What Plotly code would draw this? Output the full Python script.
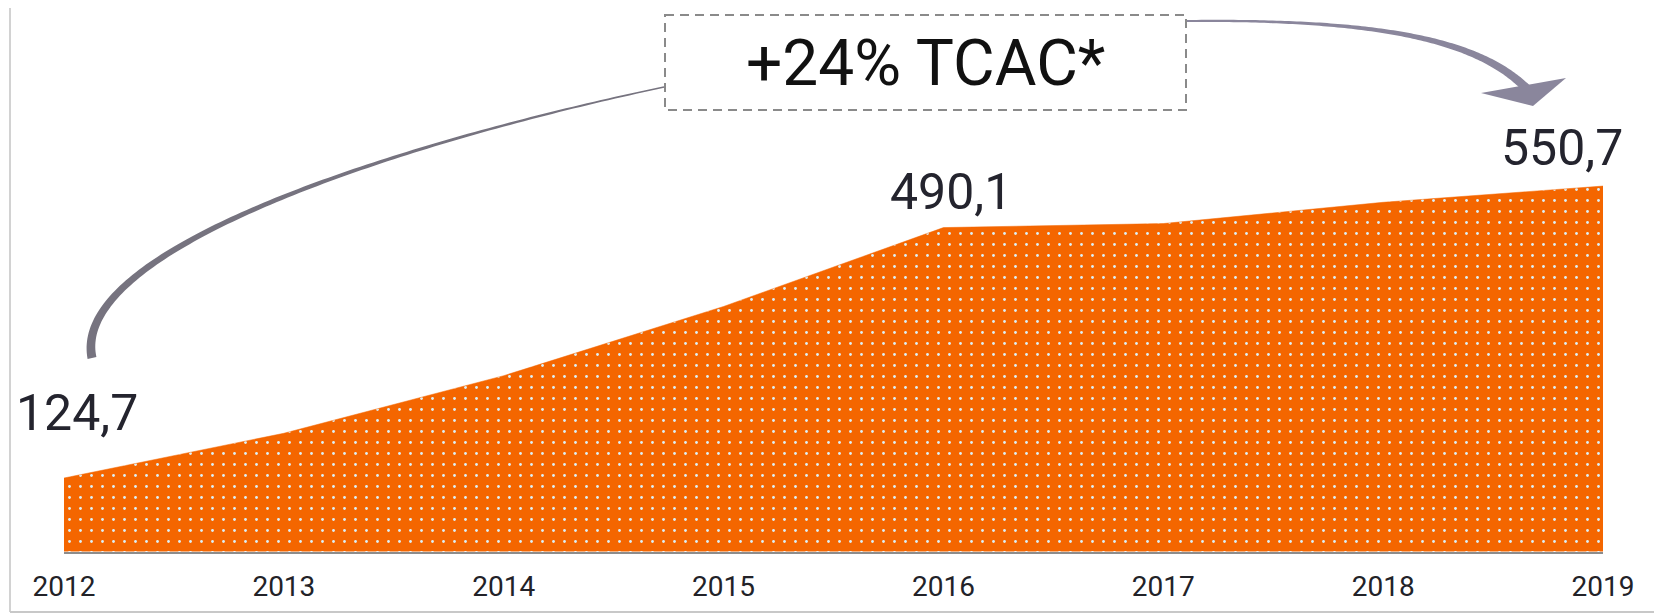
import numpy as np
import plotly.graph_objects as go

# ---------------- data ----------------
years = [2012, 2013, 2014, 2015, 2016, 2017, 2018, 2019]
values = [124.7, 190.0, 274.0, 375.0, 490.1, 496.0, 527.0, 550.7]
tick_labels = [str(y) for y in years]
labelled_years = [2012, 2016, 2019]
labelled_values = [124.7, 490.1, 550.7]
labelled_text = ["124,7", "490,1", "550,7"]
cagr_text = "+24% TCAC*"

# ---------------- styling ----------------
O = 8                      # page body margin offset
W, H = 1662 - O, 613 - O
ORANGE = "#F46600"
FONT = "Roboto"
label_shift_x = [13, 8, -41]
label_shift_y = [65, 36, 38]


def px(x, y):
    """page pixel -> paper fraction"""
    return (x - O) / W, 1 - (y - O) / H


def poly_path(points):
    parts = []
    for i, (x, y) in enumerate(points):
        fx, fy = px(x, y)
        parts.append(("M" if i == 0 else "L") + f"{fx:.5f},{fy:.5f}")
    return " ".join(parts) + " Z"


def tapered_bezier(p0, p1, p2, p3, w0, w1, n=120):
    t = np.linspace(0, 1, n)[:, None]
    P = [np.array(p, float) for p in (p0, p1, p2, p3)]
    pts = ((1 - t) ** 3) * P[0] + 3 * ((1 - t) ** 2) * t * P[1] + 3 * (1 - t) * t ** 2 * P[2] + t ** 3 * P[3]
    d = 3 * ((1 - t) ** 2) * (P[1] - P[0]) + 6 * (1 - t) * t * (P[2] - P[1]) + 3 * t ** 2 * (P[3] - P[2])
    d = d / np.linalg.norm(d, axis=1, keepdims=True)
    nrm = np.column_stack([-d[:, 1], d[:, 0]])
    w = (w0 + (w1 - w0) * t[:, 0] ** 1.3)[:, None] / 2
    left = pts + nrm * w
    right = pts - nrm * w
    return poly_path(np.vstack([left, right[::-1]]))


fig = go.Figure()
fig.add_trace(go.Scatter(
    x=years, y=values, mode="lines", fill="tozeroy",
    line=dict(color=ORANGE, width=0.5),
    fillcolor=ORANGE,
    fillpattern=dict(shape=".", bgcolor=ORANGE, fgcolor="#dcf0f7",
                     size=11, solidity=0.05, fillmode="replace"),
    hoverinfo="skip", showlegend=False,
))

shapes = []
# card frame (left + bottom edge)
fx0, fy0 = px(10, 8)
fx1, fy1 = px(10, 612)
shapes.append(dict(type="line", xref="paper", yref="paper",
                   x0=fx0, x1=fx1, y0=fy0, y1=fy1,
                   line=dict(color="#d2d2d2", width=2)))
shapes.append(dict(type="line", xref="paper", yref="paper",
                   x0=fx1, x1=1, y0=fy1, y1=fy1,
                   line=dict(color="#c8c8c8", width=2)))
# dashed box
bx0, by0 = px(665, 15)
bx1, by1 = px(1186, 110)
shapes.append(dict(type="rect", xref="paper", yref="paper",
                   x0=bx0, x1=bx1, y0=by0, y1=by1,
                   line=dict(color="#8a8a8a", width=2, dash="9px,6px"),
                   fillcolor="rgba(0,0,0,0)"))
# left curved line
shapes.append(dict(type="path", xref="paper", yref="paper",
                   path=tapered_bezier((664, 87), (390, 145), (70, 250), (92, 358), 1.6, 9),
                   fillcolor="#76737f", line=dict(width=0)))
# right curved arrow
shapes.append(dict(type="path", xref="paper", yref="paper",
                   path=tapered_bezier((1187, 21), (1380, 19), (1480, 40), (1528, 90), 2, 9),
                   fillcolor="#8a869c", line=dict(width=0)))
shapes.append(dict(type="path", xref="paper", yref="paper",
                   path=poly_path([(1481, 93), (1566, 78), (1533, 106)]),
                   fillcolor="#8a869c", line=dict(width=0)))

annotations = []
for yr, v, t, sx, sy in zip(labelled_years, labelled_values, labelled_text, label_shift_x, label_shift_y):
    annotations.append(dict(x=yr, y=v, xref="x", yref="y", text=t, showarrow=False,
                            xanchor="center", yanchor="middle", xshift=sx, yshift=sy,
                            font=dict(family=FONT, size=50, color="#24242e")))
tx, ty = px(925, 63)
annotations.append(dict(x=tx, y=ty, xref="paper", yref="paper", text=cagr_text,
                        showarrow=False, xanchor="center", yanchor="middle",
                        font=dict(family=FONT, size=64, color="#111111")))

fig.update_layout(
    width=W, height=H,
    margin=dict(l=0, r=0, t=0, b=0, pad=0, autoexpand=False),
    paper_bgcolor="white", plot_bgcolor="white",
    shapes=shapes, annotations=annotations,
    xaxis=dict(domain=[(64 - O) / W, (1603 - O) / W], range=[2012, 2019],
               tickvals=years, ticktext=tick_labels,
               showline=True, linecolor="#8c8c8c", linewidth=2,
               showgrid=False, zeroline=False, ticks="",
               ticklabelstandoff=9,
               tickfont=dict(family=FONT, size=28, color="#222228")),
    yaxis=dict(domain=[1 - (551.5 - O) / H, 1], range=[17.5, 810.5],
               visible=False, showgrid=False, zeroline=False),
    showlegend=False,
)

fig.write_html("out.html")
